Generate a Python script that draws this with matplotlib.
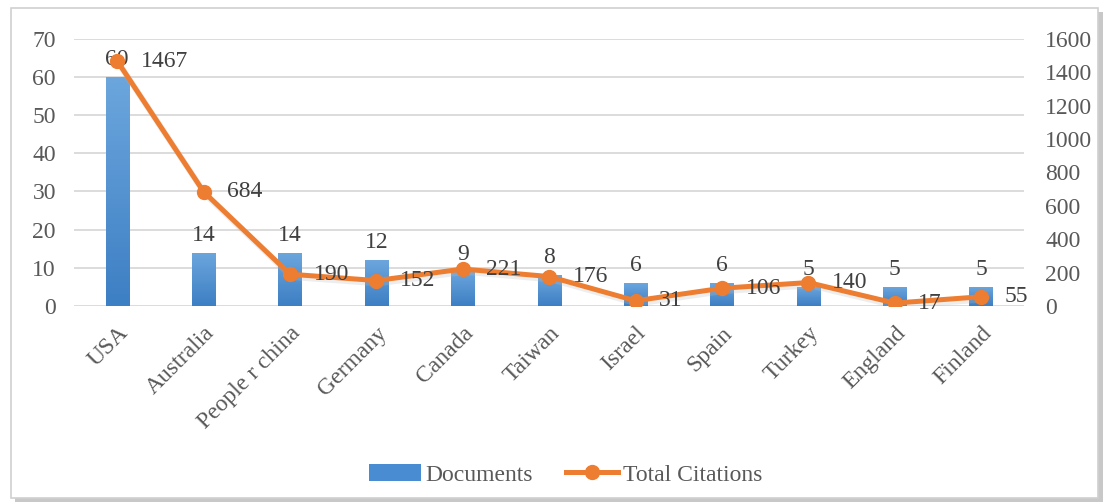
import matplotlib
matplotlib.use("Agg")
import numpy as np
import matplotlib.pyplot as plt
from matplotlib.patches import Rectangle, Patch
from matplotlib.lines import Line2D
from matplotlib.colors import LinearSegmentedColormap

countries = ["USA", "Australia", "People r china", "Germany", "Canada", "Taiwan",
             "Israel", "Spain", "Turkey", "England", "Finland"]
documents = [60, 14, 14, 12, 9, 8, 6, 6, 5, 5, 5]
citations = [1467, 684, 190, 152, 221, 176, 31, 106, 140, 17, 55]

doc_ticks = [0, 10, 20, 30, 40, 50, 60, 70]
cit_ticks = [0, 200, 400, 600, 800, 1000, 1200, 1400, 1600]

BLUE = "#4A8CD2"
BLUE_TOP = "#6CA6DD"
BLUE_BOTTOM = "#3D7FC4"
ORANGE = "#ED7D31"
TEXT = "#595959"
LABEL = "#404040"
GRID = "#D9D9D9"
FS = 17

plt.rcParams["font.family"] = ["Liberation Serif", "DejaVu Serif"]

fig = plt.figure(figsize=(11.05, 5.04), dpi=100)

# framed chart area with a soft shadow
shadow = Rectangle((0.014, 0.004), 0.984, 0.972, transform=fig.transFigure,
                   facecolor="#C8C8C8", edgecolor="none", zorder=0)
frame = Rectangle((0.010, 0.012), 0.984, 0.972, transform=fig.transFigure,
                  facecolor="white", edgecolor="#D0D0D0", linewidth=1.2, zorder=0.5)
fig.patches.extend([shadow, frame])

ax = fig.add_axes([0.067, 0.393, 0.860, 0.530])
ax.set_zorder(1)
ax.patch.set_visible(False)
ax2 = ax.twinx()

x = np.arange(len(countries))
ax.set_ylim(0, 70)
ax.set_xlim(-0.5, len(countries) - 0.5)
bars = ax.bar(x, documents, width=0.27, color=BLUE, zorder=2)

# vertical gradient fill for each bar
cmap = LinearSegmentedColormap.from_list("bar", [BLUE_BOTTOM, BLUE_TOP])
grad = np.linspace(0, 1, 256).reshape(-1, 1)
for b in bars:
    bx, by = b.get_x(), b.get_y()
    bw, bh = b.get_width(), b.get_height()
    im = ax.imshow(grad, cmap=cmap, origin="lower", aspect="auto",
                   extent=(bx, bx + bw, by, by + bh), zorder=2.1)
    im.set_clip_path(b)
ax.set_xlim(-0.5, len(countries) - 0.5)
ax.set_ylim(0, 70)
ax.set_yticks(doc_ticks)
ax.grid(axis="y", color=GRID, linewidth=1.3, zorder=0)
ax.set_axisbelow(True)

# faint shadow under the citation line
ax2.plot(x + 0.02, np.array(citations) - 16, color="#BBBBBB", linewidth=4.5,
         alpha=0.25, zorder=2.5, solid_joinstyle="round")
ax2.plot(x, citations, color=ORANGE, linewidth=3.6, marker="o", markersize=10,
         zorder=3, solid_joinstyle="round")
ax2.set_ylim(0, 1600)
ax2.set_yticks(cit_ticks)

for a in (ax, ax2):
    for s in a.spines.values():
        s.set_visible(False)
    a.tick_params(length=0, labelsize=FS, labelcolor=TEXT)
ax.tick_params(axis="y", pad=13)
ax2.tick_params(axis="y", pad=15)

ax.set_xticks(x)
ax.set_xticklabels(countries, rotation=45, ha="right", rotation_mode="anchor",
                   fontsize=FS, color=TEXT)
ax.tick_params(axis="x", pad=12)

for xi, d in zip(x, documents):
    ax.annotate(str(d), (xi, d), xytext=(0, 5), textcoords="offset points",
                ha="center", va="bottom", fontsize=FS, color=LABEL, zorder=5)
for xi, c in zip(x, citations):
    ax2.annotate(str(c), (xi, c), xytext=(17, 0), textcoords="offset points",
                 ha="left", va="center", fontsize=FS, color=LABEL, zorder=5)

handles = [Patch(facecolor=BLUE, edgecolor="none"),
           Line2D([0], [0], color=ORANGE, linewidth=3.6, marker="o", markersize=10)]
fig.legend(handles, ["Documents", "Total Citations"], loc="center",
           bbox_to_anchor=(0.512, 0.058), ncol=2, frameon=False, fontsize=FS,
           labelcolor=TEXT, handlelength=2.2, columnspacing=1.4, handletextpad=0.2)

fig.savefig("out.png", dpi=100)
